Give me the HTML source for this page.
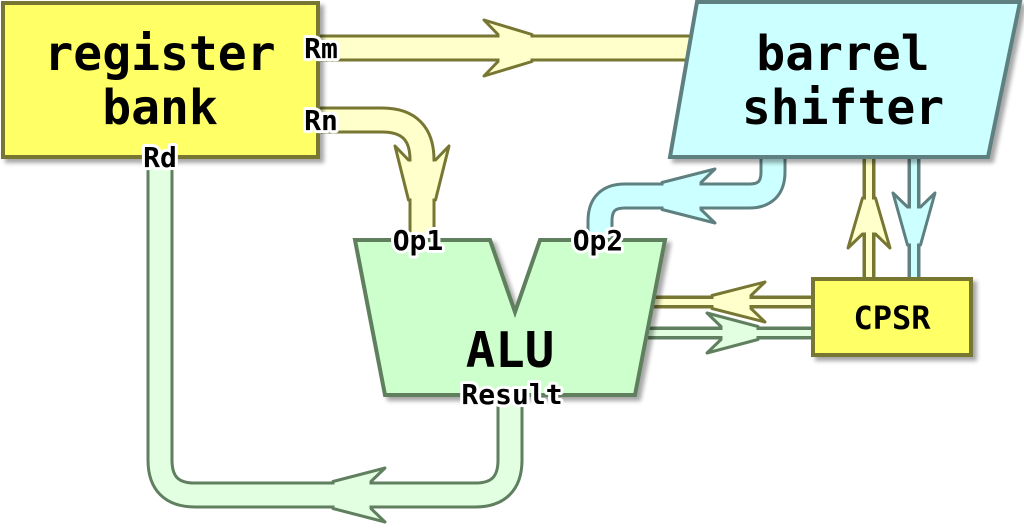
<!DOCTYPE html>
<html><head><meta charset="utf-8"><style>
html,body{margin:0;padding:0;background:#fff;}
svg{display:block;}
.lbl{font-family:"DejaVu Sans Mono","Liberation Mono",monospace;font-weight:bold;font-size:28px;fill:#000;stroke:#fff;stroke-width:6px;paint-order:stroke;stroke-linejoin:round;text-anchor:middle;}
.big{font-family:"DejaVu Sans Mono","Liberation Mono",monospace;font-weight:bold;fill:#000;text-anchor:middle;}
</style></head><body>
<svg id="d" width="1024" height="528" viewBox="0 0 1024 528" xmlns="http://www.w3.org/2000/svg">
<defs><filter id="sh" x="-10%" y="-10%" width="130%" height="130%"><feGaussianBlur in="SourceAlpha" stdDeviation="2"/><feOffset dx="4" dy="4"/><feComponentTransfer><feFuncA type="linear" slope="0.35"/></feComponentTransfer><feMerge><feMergeNode/><feMergeNode in="SourceGraphic"/></feMerge></filter></defs>
<g id="buses"></g>

<g>
<rect x="3" y="3" width="315" height="154" fill="#ffff66" stroke="#777733" stroke-width="4" filter="url(#sh)"/>
<text class="big" x="160" y="70" font-size="48">register</text>
<text class="big" x="160" y="124" font-size="48">bank</text>
</g>
<g>
<polygon points="697,2 1020,2 988,157 670,157" fill="#ccffff" stroke="#5f8080" stroke-width="4" filter="url(#sh)"/>
<text class="big" x="843" y="70" font-size="48">barrel</text>
<text class="big" x="843" y="124" font-size="48">shifter</text>
</g>
<g>
<polygon points="355,240 490,240 515,312 540,240 665,240 635,395 385,395" fill="#ccffcc" stroke="#5f7f5f" stroke-width="4" filter="url(#sh)"/>
<text class="big" x="510" y="367" font-size="49">ALU</text>
</g>
<g>
<rect x="813" y="279" width="158" height="76" fill="#ffff66" stroke="#777733" stroke-width="4" filter="url(#sh)"/>
<text class="big" x="892" y="329" font-size="32">CPSR</text>
</g>

<text class="lbl" x="321" y="58">Rm</text>
<text class="lbl" x="321" y="130">Rn</text>
<text class="lbl" x="160" y="167">Rd</text>
<text class="lbl" x="418" y="250">Op1</text>
<text class="lbl" x="598" y="250">Op2</text>
<text class="lbl" x="512" y="404">Result</text>
</svg>
<script>
const NS="http://www.w3.org/2000/svg";
const busNames=["rd-result-bus","rm-bus","rn-bus","op2-bus","cpsr-to-shifter","shifter-to-cpsr","cpsr-to-alu","alu-to-cpsr"];
const busPaths=[
"M160,150 V460 Q160,495 195,495 H475 Q510,495 510,460 V390",
"M315,48 H700",
"M315,120 H382 Q422,120 422,160 V245",
"M773,150 V172 Q773,196 749,196 H625 Q600,196 600,221 V245",
"M869,150 V285",
"M914,150 V285",
"M650,302 H818",
"M640,333 H818"];
const arrowFront=[[333,495],[532,48],[422,200],[662,196],[869,198],[914,245],[712,302],[758,333]];
const arrowDir=[[-1,0],[1,0],[0,1],[-1,0],[0,-1],[0,1],[-1,0],[1,0]];
const arrowLen=[52,48,54,53,50,52,53,51];
const arrowW=[27,28,27,27,21,21,20,20];
const busWide=[1,1,1,1,0,0,0,0];
const busDark=["#5f7f5f","#777733","#777733","#5f8080","#777733","#5f8080","#777733","#5f7f5f"];
const busLight=["#e2ffe2","#ffffcc","#ffffcc","#ccffff","#ffffcc","#ccffff","#ffffcc","#e2ffe2"];
const root=document.getElementById("buses");
for(let i=0;i<busNames.length;i++){
  const g=document.createElementNS(NS,"g");
  
  
  const ow=busWide[i]?27:13, iw=busWide[i]?21:6, h=ow/2;
  const p1=document.createElementNS(NS,"path");
  
  
  p1.setAttribute("d",busPaths[i]);p1.setAttribute("fill","none");p1.setAttribute("stroke",busDark[i]);p1.setAttribute("stroke-width",ow);
  g.appendChild(p1);
  const [fx,fy]=arrowFront[i],[dx,dy]=arrowDir[i],L=arrowLen[i],W=arrowW[i];
  const nx=-dy,ny=dx;
  const pt=(a,b)=>{const x=fx-dx*(L-a)+nx*b,y=fy-dy*(L-a)+ny*b;return x.toFixed(1)+","+y.toFixed(1);};
  const n=14;
  const poly=document.createElementNS(NS,"polygon");
  
  
  poly.setAttribute("points",[pt(0,-W),pt(L,-h),pt(L,h),pt(0,W),pt(n,h),pt(n,-h)].join(" "));
  poly.setAttribute("fill",busLight[i]);poly.setAttribute("stroke",busDark[i]);poly.setAttribute("stroke-width",3);poly.setAttribute("stroke-linejoin","round");
  g.appendChild(poly);
  const p2=document.createElementNS(NS,"path");
  
  
  p2.setAttribute("d",busPaths[i]);p2.setAttribute("fill","none");p2.setAttribute("stroke",busLight[i]);p2.setAttribute("stroke-width",iw);
  g.appendChild(p2);
  root.appendChild(g);
}
</script>
</body></html>
